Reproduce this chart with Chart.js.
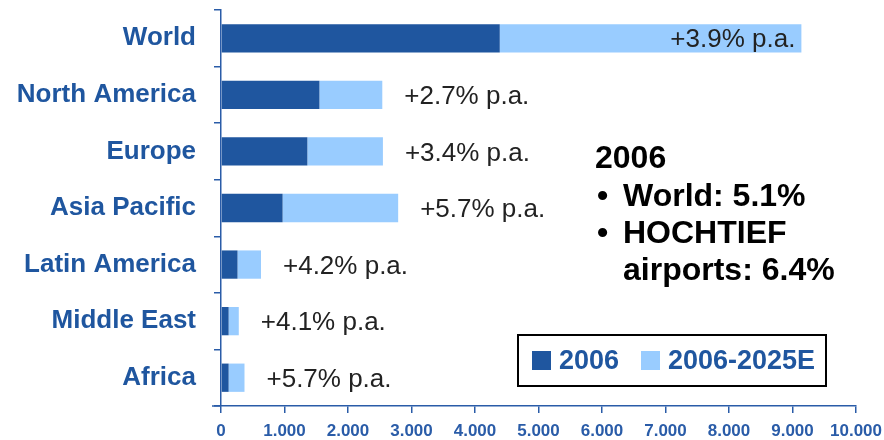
<!DOCTYPE html>
<html>
<head>
<meta charset="utf-8">
<script src="https://cdn.jsdelivr.net/npm/chart.js@4.4.1/dist/chart.umd.min.js"></script>
<style>
html,body{margin:0;padding:0;background:#fff;}
#wrap{position:relative;width:884px;height:440px;}
</style>
</head>
<body>
<div id="wrap"><canvas id="c" width="884" height="440"></canvas></div>
<script>
const categories = ['World','North America','Europe','Asia Pacific','Latin America','Middle East','Africa'];
const values2006 = [4390, 1550, 1360, 970, 260, 120, 120];
const growth2006to2025 = [4750, 990, 1190, 1820, 370, 160, 250];
const growthLabels = ['+3.9% p.a.','+2.7% p.a.','+3.4% p.a.','+5.7% p.a.','+4.2% p.a.','+4.1% p.a.','+5.7% p.a.'];
const seriesNames = ['2006','2006-2025E'];
const noteTitle = '2006';
const noteLines = [['•','World: 5.1%'],['•','HOCHTIEF'],['','airports: 6.4%']];

const DARK = '#1F569F';
const LIGHT = '#99CCFF';
const AXIS = '#2A5CA8';
const FONT = '"Liberation Sans", Arial, Helvetica, sans-serif';

function fmt(v){ return String(v).replace(/\B(?=(\d{3})+(?!\d))/g, '.'); }

const annotations = {
  id: 'annotations',
  afterDatasetsDraw(chart){
    const ctx = chart.ctx;
    const xs = chart.scales.x, ys = chart.scales.y;
    ctx.save();
    ctx.font = '26px ' + FONT;
    ctx.fillStyle = '#222';
    ctx.textBaseline = 'middle';
    categories.forEach((c,i)=>{
      const total = values2006[i] + growth2006to2025[i];
      const px = xs.getPixelForValue(total);
      const py = ys.getPixelForValue(i) + 2;
      if (i === 0) { ctx.textAlign = 'right'; ctx.fillText(growthLabels[i], px - 6, py); }
      else { ctx.textAlign = 'left'; ctx.fillText(growthLabels[i], px + 22, py); }
    });
    // extend x axis line slightly left of y axis
    ctx.strokeStyle = AXIS; ctx.lineWidth = 1.5;
    ctx.beginPath();
    ctx.moveTo(chart.chartArea.left - 9, chart.chartArea.bottom);
    ctx.lineTo(chart.chartArea.left, chart.chartArea.bottom);
    ctx.stroke();
    ctx.restore();
  },
  afterDraw(chart){
    const ctx = chart.ctx;
    ctx.save();
    // note block
    ctx.fillStyle = '#000';
    ctx.textBaseline = 'alphabetic';
    ctx.textAlign = 'left';
    ctx.font = 'bold 32px ' + FONT;
    ctx.fillText(noteTitle, 595, 168);
    noteLines.forEach((ln,k)=>{
      const by = 206 + k*37;
      if (ln[0]) { ctx.fillText(ln[0], 597, by); }
      ctx.fillText(ln[1], 623, by);
    });
    // legend
    ctx.lineWidth = 2;
    ctx.strokeStyle = '#000';
    ctx.strokeRect(518, 335, 308, 51);
    ctx.font = 'bold 27px ' + FONT;
    ctx.textBaseline = 'middle';
    ctx.fillStyle = DARK; ctx.fillRect(532, 351, 19, 19);
    ctx.fillStyle = DARK; ctx.fillText(seriesNames[0], 559, 362);
    ctx.fillStyle = LIGHT; ctx.fillRect(641, 351, 19, 19);
    ctx.fillStyle = DARK; ctx.fillText(seriesNames[1], 668, 362);
    ctx.restore();
  }
};

new Chart(document.getElementById('c'), {
  type: 'bar',
  data: {
    labels: categories,
    datasets: [
      { label: seriesNames[0], data: values2006, backgroundColor: DARK, borderWidth: 0 },
      { label: seriesNames[1], data: growth2006to2025, backgroundColor: LIGHT, borderWidth: 0 }
    ]
  },
  options: {
    indexAxis: 'y',
    responsive: false,
    animation: false,
    devicePixelRatio: 1,
    layout: { padding: { top: 10, right: 28, left: 0, bottom: 0 } },
    datasets: { bar: { barPercentage: 0.5, categoryPercentage: 1.0 } },
    plugins: { legend: { display: false }, tooltip: { enabled: false } },
    scales: {
      x: {
        stacked: true, min: 0, max: 10000,
        ticks: { stepSize: 1000, callback: v => fmt(v), color: AXIS, font: { family: FONT, size: 17, weight: 'bold' }, padding: 8, maxRotation: 0, autoSkip: false },
        grid: { drawOnChartArea: false, tickLength: 7, tickColor: AXIS, lineWidth: 1.5 },
        border: { color: AXIS, width: 1.5 },
        afterFit(s){ s.height = 34; s.paddingLeft = 0; s.paddingRight = 0; }
      },
      y: {
        stacked: true,
        ticks: { color: DARK, font: { family: FONT, size: 26, weight: 'bold' }, padding: 18 },
        grid: { drawOnChartArea: false, tickLength: 7, tickColor: AXIS, lineWidth: 1.5, offset: true },
        border: { color: AXIS, width: 1.5 },
        afterFit(s){ s.width = 221; s.paddingTop = 0; s.paddingBottom = 0; }
      }
    }
  },
  plugins: [annotations]
});
</script>
</body>
</html>
